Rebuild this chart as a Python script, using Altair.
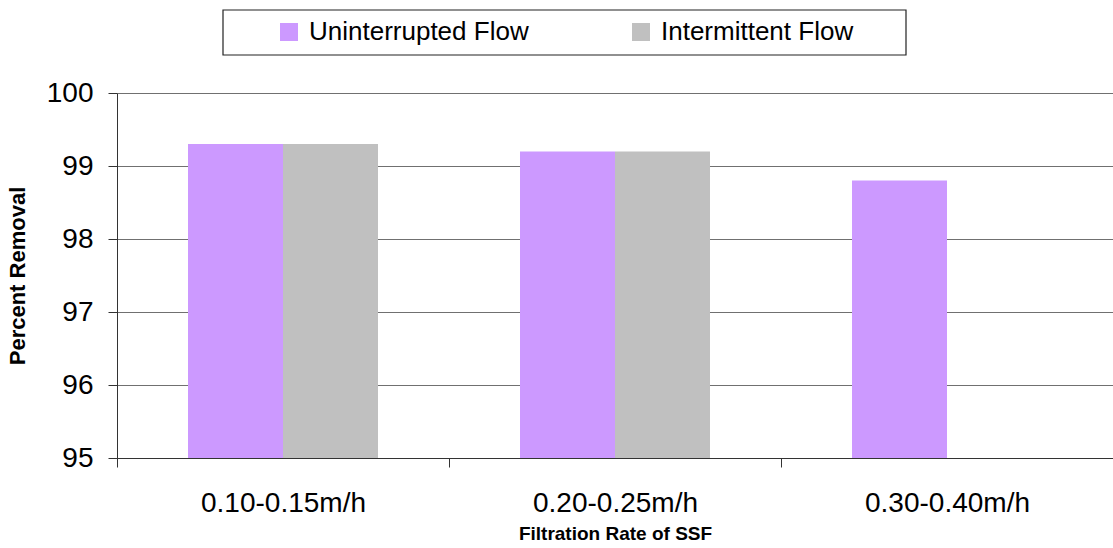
import altair as alt
import pandas as pd

rates = ["0.10-0.15m/h", "0.20-0.25m/h", "0.30-0.40m/h"]
series = ["Uninterrupted Flow", "Intermittent Flow"]
uninterrupted = [99.3, 99.2, 98.8]
intermittent = [99.3, 99.2, None]
colors = ["#CC99FF", "#C0C0C0"]
y_ticks = [95, 96, 97, 98, 99, 100]

rows = []
for r, u, i in zip(rates, uninterrupted, intermittent):
    if u is not None:
        rows.append({"rate": r, "flow": series[0], "value": u})
    if i is not None:
        rows.append({"rate": r, "flow": series[1], "value": i})
df = pd.DataFrame(rows)

FONT = "Liberation Sans"

bars = alt.Chart(df).mark_bar().encode(
    x=alt.X(
        "rate:N",
        sort=rates,
        scale=alt.Scale(paddingInner=0, paddingOuter=0),
        axis=alt.Axis(
            title="Filtration Rate of SSF",
            labelAngle=0,
            tickBand="extent",
            grid=False,
            tickSize=9,
            labelPadding=22,
            labelFontSize=28,
            labelFont=FONT,
            labelColor="black",
            titleFont=FONT,
            titleFontSize=19,
            titleFontWeight="bold",
            titleColor="black",
            titlePadding=7,
            domainColor="#333333",
            tickColor="#333333",
        ),
    ),
    xOffset=alt.XOffset(
        "flow:N",
        sort=series,
        scale=alt.Scale(paddingInner=0, paddingOuter=0.7474),
    ),
    y=alt.Y(
        "value:Q",
        scale=alt.Scale(domain=[95, 100], zero=False, nice=False),
        axis=alt.Axis(
            title="Percent Removal",
            values=y_ticks,
            grid=True,
            gridColor="#707070",
            tickSize=9,
            labelPadding=15,
            labelFontSize=28,
            labelFont=FONT,
            labelColor="black",
            titleFont=FONT,
            titleFontSize=22,
            titleFontWeight="bold",
            titleColor="black",
            titlePadding=17,
            domainColor="#333333",
            tickColor="#333333",
        ),
    ),
    y2=alt.datum(95),
    color=alt.Color(
        "flow:N",
        scale=alt.Scale(domain=series, range=colors),
        legend=alt.Legend(
            title=None,
            orient="none",
            legendX=159,
            legendY=-74,
            direction="horizontal",
            columns=2,
            columnPadding=99,
            symbolType="square",
            symbolSize=324,
            symbolStrokeWidth=0,
            labelFont=FONT,
            labelFontSize=26,
            labelColor="black",
            labelOffset=7,
            labelLimit=0,
            padding=0,
        ),
    ),
)

box = alt.Chart(pd.DataFrame({"a": [0]})).mark_rect(
    fill="white", stroke="#222222", strokeWidth=1.2
).encode(
    x=alt.value(106), x2=alt.value(789), y=alt.value(-83), y2=alt.value(-38)
)

chart = alt.layer(box, bars).properties(
    width=996,
    height=365,
    padding={"left": 117, "top": 93, "right": 0, "bottom": 90},
    autosize="none",
    background="white",
).configure_view(stroke=None)

chart.save("out.html", embed_options={"renderer": "svg", "actions": False})
